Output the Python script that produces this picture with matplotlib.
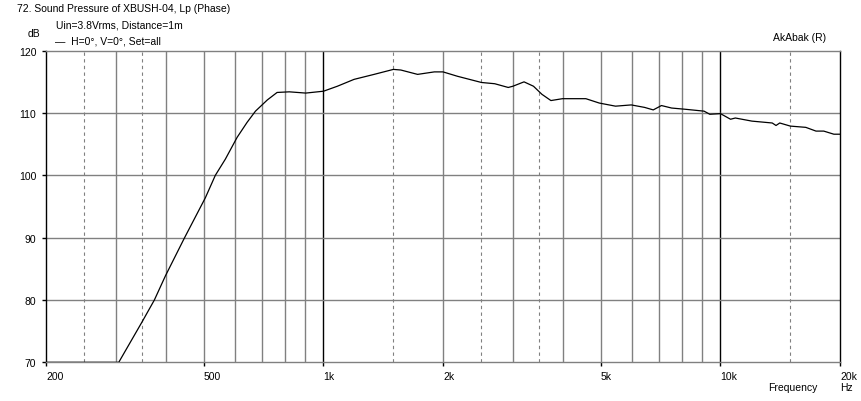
import numpy as np
import matplotlib
matplotlib.use('Agg')
import matplotlib.pyplot as plt

# curve (Hz, dB)
freq = [200, 305, 350, 375, 400, 446, 504, 534, 566, 606, 642, 674, 722, 764,
        820, 902, 1000, 1084, 1194, 1341, 1500, 1566, 1726, 1902, 2000, 2174,
        2500, 2700, 2920, 3000, 3200, 3380, 3550, 3740, 4000, 4580, 4950, 5440,
        5960, 6440, 6770, 7100, 7530, 8160, 9090, 9400, 10000, 10600, 10900,
        12000, 13500, 13800, 14100, 15000, 16400, 17400, 18200, 19300, 20000]
spl = [70.0, 70.0, 76.6, 80.0, 83.9, 89.9, 96.4, 100.0, 102.6, 106.1, 108.5,
       110.3, 112.1, 113.3, 113.4, 113.2, 113.5, 114.3, 115.4, 116.2, 117.0,
       116.9, 116.2, 116.6, 116.6, 115.9, 114.9, 114.7, 114.1, 114.3, 115.0,
       114.3, 113.0, 112.0, 112.3, 112.3, 111.6, 111.1, 111.3, 110.9, 110.5,
       111.2, 110.8, 110.6, 110.3, 109.8, 109.9, 109.0, 109.2, 108.7, 108.4,
       108.0, 108.4, 107.9, 107.7, 107.1, 107.1, 106.6, 106.6]

x_ticks = [200, 500, 1000, 2000, 5000, 10000, 20000]
x_labels = ['200', '500', '1k', '2k', '5k', '10k', '20k']
y_ticks = [70, 80, 90, 100, 110, 120]
solid_grid = [300, 400, 500, 600, 700, 800, 900,
              2000, 3000, 4000, 5000, 6000, 7000, 8000, 9000]
dashed_grid = [250, 350, 1500, 2500, 3500, 15000]
black_grid = [1000, 10000]

plt.rcParams['font.family'] = ['Liberation Sans', 'DejaVu Sans']
plt.rcParams['font.size'] = 7.5

fig = plt.figure(figsize=(8.62, 4.02), dpi=100)
ax = fig.add_axes([46 / 862, 38.7 / 402, 794 / 862, 311.6 / 402])

gray = '#808080'
for f in solid_grid:
    ax.axvline(f, color=gray, lw=1, zorder=1)
for f in dashed_grid:
    ax.axvline(f, color=gray, lw=0.8, ls=(0, (3, 3)), zorder=1)
for f in black_grid:
    ax.axvline(f, color='black', lw=1, zorder=1)
for v in y_ticks[1:-1]:
    ax.axhline(v, color=gray, lw=1, zorder=1)

ax.plot(freq, spl, color='black', lw=0.9, zorder=3)

ax.set_xscale('log')
ax.set_xlim(200, 20000)
ax.set_ylim(70, 120)
ax.set_xticks(x_ticks)
ax.set_xticklabels(x_labels, ha='left')
ax.xaxis.set_minor_locator(matplotlib.ticker.NullLocator())
ax.set_yticks(y_ticks)
ax.tick_params(axis='both', length=3, width=1, color='black', direction='out')
ax.tick_params(axis='y', pad=4)
ax.tick_params(axis='x', pad=3)

for s in ['top', 'bottom']:
    ax.spines[s].set_color(gray)
for s in ['left', 'right']:
    ax.spines[s].set_color('black')
for s in ax.spines.values():
    s.set_linewidth(1)

fig.text(17 / 862, 1 - 9 / 402, '72. Sound Pressure of XBUSH-04, Lp (Phase)', va='center')
fig.text(56 / 862, 1 - 26 / 402, 'Uin=3.8Vrms, Distance=1m', va='center')
fig.text(28 / 862, 1 - 34 / 402, 'dB', va='center')
fig.text(55 / 862, 1 - 42 / 402, '\u2014  H=0\u00b0, V=0\u00b0, Set=all', va='center')
fig.text(826 / 862, 1 - 38 / 402, 'AkAbak (R)', va='center', ha='right')
fig.text(818 / 862, 1 - 388 / 402, 'Frequency', va='center', ha='right')
fig.text(840 / 862, 1 - 388 / 402, 'Hz', va='center', ha='left')

fig.savefig('out.png', dpi=100)
